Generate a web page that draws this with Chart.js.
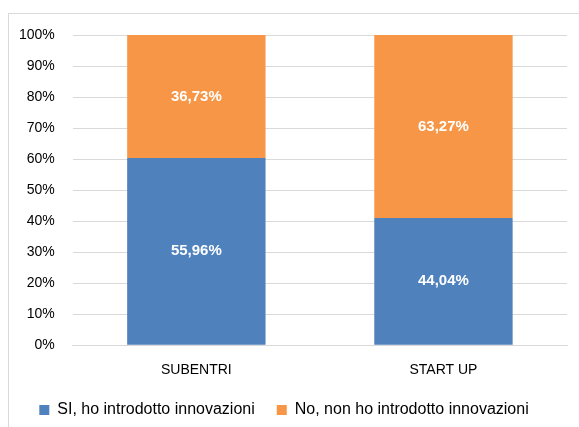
<!DOCTYPE html>
<html>
<head>
<meta charset="utf-8">
<script src="https://cdn.jsdelivr.net/npm/chart.js@4/dist/chart.umd.min.js"></script>
<style>
  body{margin:0;background:#fff;}
  #wrap{position:relative;width:579px;height:427px;}
  #frame{position:absolute;left:8px;top:13px;right:0;bottom:0;border-left:1px solid #d9d9d9;border-top:1px solid #d9d9d9;}
  canvas{position:absolute;left:0;top:0;}
</style>
</head>
<body>
<div id="wrap">
  <div id="frame"></div>
  <canvas id="mychart" width="579" height="427"></canvas>
</div>
<script>
'use strict';
const categories = ['SUBENTRI', 'START UP'];
const seriesNames = ['SI, ho introdotto innovazioni', 'No, non ho introdotto innovazioni'];
const siValues = [55.96, 44.04];
const noValues = [36.73, 63.27];
const yTicks = [0, 10, 20, 30, 40, 50, 60, 70, 80, 90, 100];

// 100% stacked: each bar is scaled to its own total
const totals = categories.map((c, i) => siValues[i] + noValues[i]);
const siShare = siValues.map((v, i) => v / totals[i] * 100);
const noShare = noValues.map((v, i) => v / totals[i] * 100);

const font = "'Liberation Sans', Arial, sans-serif";

// white value labels in the middle of each segment
const valueLabels = {
  id: 'valueLabels',
  afterDatasetsDraw(chart) {
    const ctx = chart.ctx;
    ctx.save();
    ctx.fillStyle = '#fff';
    ctx.font = 'bold 15px ' + font;
    ctx.textAlign = 'center';
    ctx.textBaseline = 'middle';
    chart.data.datasets.forEach((ds, di) => {
      chart.getDatasetMeta(di).data.forEach((bar, i) => {
        const p = bar.getProps(['x', 'y', 'base'], true);
        const txt = ds.raw[i].toFixed(2).replace('.', ',') + '%';
        ctx.fillText(txt, p.x, (p.y + p.base) / 2);
      });
    });
    ctx.restore();
  }
};

let mychart = document.getElementById('mychart').getContext('2d');
let barchart = new Chart(mychart, {
  type: 'bar',
  data: {
    labels: categories,
    datasets: [{
      label: seriesNames[0],
      data: siShare,
      raw: siValues,
      backgroundColor: '#4f81bd',
      barPercentage: 0.56,
      categoryPercentage: 1
    }, {
      label: seriesNames[1],
      data: noShare,
      raw: noValues,
      backgroundColor: '#f79646',
      barPercentage: 0.56,
      categoryPercentage: 1
    }]
  },
  options: {
    responsive: false,
    animation: false,
    layout: {padding: {left: 1, right: 12, top: 35, bottom: -1}},
    plugins: {
      tooltip: {enabled: false},
      legend: {
        position: 'bottom',
        labels: {
          boxWidth: 10,
          boxHeight: 10,
          padding: 22,
          color: '#000',
          font: {family: font, size: 16}
        }
      }
    },
    scales: {
      x: {
        stacked: true,
        grid: {display: false},
        border: {color: '#d9d9d9'},
        afterFit(axis) { axis.height -= 8; },
        ticks: {color: '#000', padding: 9, font: {family: font, size: 14}}
      },
      y: {
        stacked: true,
        min: 0,
        max: 100,
        afterBuildTicks(axis) { axis.ticks = yTicks.map(v => ({value: v})); },
        grid: {color: '#d9d9d9', drawTicks: false},
        border: {display: false},
        ticks: {color: '#000', padding: 18, font: {family: font, size: 14}, callback: v => v + '%'}
      }
    }
  },
  plugins: [valueLabels]
});
</script>
</body>
</html>
